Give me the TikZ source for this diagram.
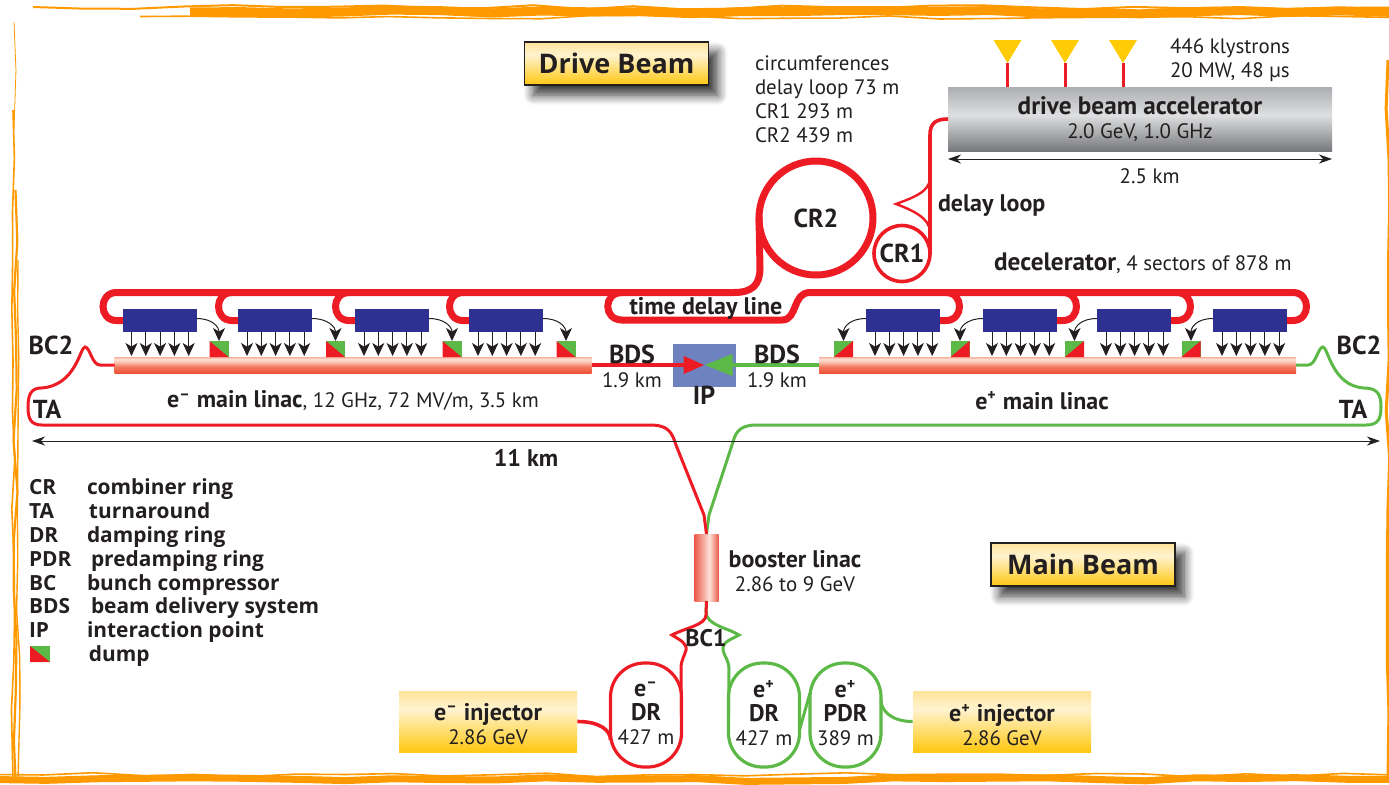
\documentclass[tikz,border=0pt]{standalone}
\usepackage{fontspec}
\setmainfont{PT Sans}
\newfontfamily\legfont{Open Sans}
\usetikzlibrary{calc,arrows.meta,decorations.pathmorphing,shadows.blur}
\definecolor{clicred}{HTML}{ED1C24}
\definecolor{clicgreen}{HTML}{5DB947}
\definecolor{clicblue}{HTML}{2E3192}
\definecolor{ipblue}{HTML}{6D82BF}
\definecolor{edgeorange}{HTML}{FF9900}
\definecolor{klyyellow}{HTML}{FFCB05}
\definecolor{inkc}{HTML}{231F20}
\definecolor{linaca}{HTML}{EE5236}
\definecolor{linacb}{HTML}{F27A5E}
\definecolor{linacc}{HTML}{FBBFAD}
\definecolor{linacd}{HTML}{FDE0D6}
\definecolor{linace}{HTML}{F9B09C}
\definecolor{accela}{HTML}{77787B}
\definecolor{accelb}{HTML}{DEDFE0}
\definecolor{accelc}{HTML}{ACAEB1}
\definecolor{golda}{HTML}{FFC70F}
\definecolor{goldb}{HTML}{FFF3CF}
\definecolor{goldc}{HTML}{FFE39A}
\definecolor{boostera}{HTML}{EC5A4A}
\definecolor{boosterb}{HTML}{FBE3DA}
\pgfdeclareverticalshading{linacshade}{100bp}{color(0bp)=(linaca); color(25bp)=(linaca); color(45bp)=(linacb); color(58bp)=(linacc); color(68bp)=(linacd); color(75bp)=(linace); color(100bp)=(linace)}
\pgfdeclareverticalshading{accelshade}{100bp}{color(0bp)=(accela); color(25bp)=(accela); color(53bp)=(accelb); color(75bp)=(accelc); color(100bp)=(accelc)}
\pgfdeclareverticalshading{goldshade}{100bp}{color(0bp)=(golda); color(25bp)=(golda); color(60bp)=(goldb); color(75bp)=(goldc); color(100bp)=(goldc)}
\pgfdeclarehorizontalshading{boostershade}{100bp}{color(0bp)=(boostera); color(25bp)=(boostera); color(56bp)=(boosterb); color(75bp)=(boostera); color(100bp)=(boostera)}
\newcommand{\hl}[1]{{\fontsize{12}{12}\selectfont\bfseries #1}}
\newcommand{\hm}[1]{{\fontsize{12.6}{12}\selectfont\bfseries #1}}
\tikzset{
  txt/.style={font=\fontsize{10.45}{12}\selectfont, text=inkc, inner sep=0pt, outer sep=0pt},
  btxt/.style={txt, font=\fontsize{12}{12}\selectfont\bfseries},
  ctxt/.style={txt, font=\fontsize{13}{12}\selectfont\bfseries},
  legtxt/.style={inner sep=0pt, outer sep=0pt, anchor=base west, text=inkc, font=\legfont\fontsize{10.45}{12}\selectfont\bfseries},
  titlebox/.style={draw=inkc, line width=.6pt, shading=goldshade, font=\legfont\fontsize{13.5}{16}\selectfont\bfseries, text=inkc, minimum width=92pt, minimum height=21.5pt, inner sep=0pt, blur shadow={shadow xshift=4.5pt, shadow yshift=-5pt, shadow blur radius=1ex, shadow blur steps=8, shadow opacity=80}},
  injector/.style={shading=goldshade, minimum width=89pt, minimum height=30.5pt},
  accel/.style={shading=accelshade, txt, align=center, minimum width=192pt, minimum height=32pt},
  linac/.style={shading=linacshade, minimum width=238.5pt, minimum height=8pt, inner sep=0pt, outer sep=0pt},
  pets/.style={fill=clicblue, minimum width=37pt, minimum height=11.5pt, inner sep=0pt, outer sep=0pt, anchor=north west},
  dumpbox/.style={minimum width=9.5pt, minimum height=8pt, inner sep=0pt, outer sep=0pt},
  ring/.style={draw, line width=1.6pt, rounded corners=17pt, minimum width=35.5pt, minimum height=52pt, outer sep=0pt},
  combiner/.style={draw=clicred, circle, inner sep=0pt, outer sep=0pt, ctxt},
  drive/.style={draw=clicred, line width=3.5pt, line cap=round},
  mainred/.style={draw=clicred, line width=1.5pt},
  maingreen/.style={draw=clicgreen, line width=1.5pt},
  rfarrow/.style={draw=inkc, line width=.5pt, -{Stealth[length=6.5pt,width=6pt,inset=1.8pt]}},
  dimline/.style={draw=inkc, line width=.5pt, {Stealth[length=6.5pt,width=4.5pt,inset=2pt]}-{Stealth[length=6.5pt,width=4.5pt,inset=2pt]}},
  rough/.style={draw=edgeorange, decorate, decoration={random steps, segment length=25pt, amplitude=1pt}}
}
\begin{document}
\begin{tikzpicture}[x=.5pt,y=-.5pt]
\useasboundingbox (0,0) rectangle (1389,784);
\pgfmathsetseed{7}
\draw[rough, line width=4.5pt] (190,12) -- (1394,12.5);
\draw[rough, line width=1pt] (33,7) -- (1394,7.5);
\draw[rough, line width=.8pt] (140,16.5) -- (1394,17.5);
\draw[rough, line width=3.5pt] (-5,779.5) -- (1394,779.5);
\draw[rough, line width=.8pt] (-5,774.5) -- (1394,775);
\draw[rough, line width=.4pt] (14,22) -- (14,130);
\draw[rough, line width=.8pt] (13,110) -- (13,780);
\draw[rough, line width=1.1pt] (15.5,190) -- (15.5,780);
\draw[rough, line width=.7pt] (18,260) -- (18,780);
\draw[rough, line width=1.5pt] (1388,60) -- (1388,780);

\node[titlebox] (drivetitle) at (616.5,63.5) {Drive Beam};
\node[titlebox] (maintitle) at (1083,564.5) {Main Beam};
\node[txt, anchor=north west, align=left] (circum) at (755,56) {circumferences\\delay loop 73 m\\CR1 293 m\\CR2 439 m};
\node[txt, anchor=north west, align=left] (klytext) at (1170,39) {446 klystrons\\20 MW, 48 µs};
\node[accel] (dba) at (1140,119) {\hm{drive beam accelerator}\\2.0 GeV, 1.0 GHz};

\foreach \nm/\x in {a/1007.5,b/1065,c/1123}{
  \coordinate (kly\nm) at (\x,63);
  \fill[klyyellow] (kly\nm) -- ++(-14,-23) -- ++(28,0) -- cycle;
  \draw[clicred, line width=1.5pt] (kly\nm) -- (kly\nm |- dba.north);
}
\draw[dimline] ([yshift=-4pt]dba.south west) -- node[txt, pos=.525, yshift=-8.5pt] (acclen) {2.5 km} ([yshift=-4pt]dba.south east);

\node[combiner, line width=3.5pt, minimum size=57pt] (crtwo) at (816,218) {CR2};
\node[combiner, line width=1.8pt, minimum size=28pt] (crone) at (902,253.5) {CR1};
\draw[clicred, line width=1.8pt] (dba.west) .. controls (936,119) and (930,123) .. (930,135) -- (crone.east);
\draw[clicred, line width=1.2pt] (930,178) .. controls (930,192) and (912,198) .. (896,204) .. controls (912,210) and (930,218) .. (930,232);
\node[btxt, anchor=west] (delayloop) at (938,206) {delay loop};
\node[txt, anchor=west] (decel) at (994,263) {\hm{decelerator}, 4 sectors of 878 m};

\foreach \nm/\x in {a/122.5,b/238,c/355,d/469,e/866,f/983,g/1097,h/1213}
  \node[pets] (pets\nm) at (\x,309) {};
\foreach \nm in {b,c,d}
  \draw[drive] (pets\nm.west) -- ++(-6,0) .. controls +(-18,0) and +(-18,0) .. ++(0,-28);
\foreach \nm in {e,f,g}
  \draw[drive] (pets\nm.east) -- ++(6,0) .. controls +(18,0) and +(18,0) .. ++(0,-28);
\coordinate (tdlend) at (622,292.5);
\draw[drive] (petsa.west) -- ++(-6,0) .. controls +(-18,0) and +(-18,0) .. ++(0,-28) -- (734,292.5) .. controls (752,292.5) and (760,285) .. (760,268) -- (crtwo.west);
\draw[drive] (tdlend) .. controls (603,292.5) and (603,320) .. (622,320) -- (782,320) .. controls (798,320) and (792,292.5) .. (810,292.5) -- ($(petsh.east)+(6,-28)$) .. controls +(18,0) and +(18,0) .. ++(0,28) -- (petsh.east);
\foreach \nm/\x in {a/122.5,b/238,c/355,d/469,e/866,f/983,g/1097,h/1213}
  \node[pets] at (\x,309) {};
\node[btxt] (tdl) at (706,308) {time delay line};

\node[linac] (linacel) at (353,365) {};
\node[linac] (linacpo) at (1057.5,365) {};
\foreach \nm/\x in {a/219,b/335.5,c/452,d/566}{
  \node[dumpbox] (dump\nm) at (\x,349) {};
  \fill[clicgreen] (dump\nm.north west) rectangle (dump\nm.south east);
  \fill[clicred] (dump\nm.north west) -- (dump\nm.south east) -- (dump\nm.south west) -- cycle;
  \draw[rfarrow] ([yshift=1pt]pets\nm.east) .. controls +(16,0) and +(0,-14) .. (dump\nm.north);
}
\foreach \nm/\x in {e/843.5,f/960,g/1074.5,h/1191}{
  \node[dumpbox] (dump\nm) at (\x,349) {};
  \fill[clicgreen] (dump\nm.north west) rectangle (dump\nm.south east);
  \fill[clicred] (dump\nm.north east) -- (dump\nm.south east) -- (dump\nm.south west) -- cycle;
  \draw[rfarrow] ([yshift=1pt]pets\nm.west) .. controls +(-16,0) and +(0,-14) .. (dump\nm.north);
}
\foreach \nm in {a,...,h}
  \foreach \dx in {4.5,11.65,18.8,25.95,33.1}
    \draw[rfarrow] ([xshift=\dx pt]pets\nm.south west) -- ++(0,24);

\node[fill=ipblue, minimum width=31.5pt, minimum height=21.5pt, inner sep=0pt, outer sep=0pt] (ip) at (704.5,365) {};
\draw[draw=clicgreen, line width=2pt, -{Triangle[length=14pt,width=10.5pt]}] (linacpo.west) -- (ip.center);
\draw[draw=clicred, line width=2pt, -{Triangle[length=10.5pt,width=8.5pt]}] (linacel.east) -- (ip.center);
\node[ctxt] (bdsl) at (632,354) {BDS};
\node[txt] (kml) at (632,380) {1.9 km};
\node[ctxt] (bdsr) at (777,354) {BDS};
\node[txt] (kmr) at (777,380) {1.9 km};
\node[ctxt] (iplabel) at (704,395) {IP};
\node[txt] (linacellabel) at (353,401) {\hl{e\textsuperscript{–} main linac}, 12 GHz, 72 MV/m, 3.5 km};
\node[btxt] (linacpolabel) at (1042,401) {e\textsuperscript{+} main linac};
\node[ctxt] (bctwol) at (51,345) {BC2};
\node[ctxt] (bctwor) at (1359,345) {BC2};
\node[ctxt] (tal) at (47,409) {TA};
\node[ctxt] (tar) at (1353,409) {TA};

\node[shading=boostershade, minimum width=12pt, minimum height=33.5pt, inner sep=0pt, outer sep=0pt] (booster) at (706.5,567.5) {};
\node[txt, align=center] (boostlabel) at (795,571.5) {\hl{booster linac}\\2.86 to 9 GeV};
\draw[maingreen] (linacpo.east) -- (1308,365) .. controls (1316,365) and (1318,347) .. (1323,347) .. controls (1328,347) and (1332,386) .. (1364,388) .. controls (1378,388) and (1381,395) .. (1381,407) .. controls (1381,419) and (1378,425) .. (1366,425) -- (757,425) .. controls (742,425) and (736,430) .. (733,442) -- (709,515) -- (booster.north);
\draw[mainred] (linacel.west) -- (100,365) .. controls (92,365) and (90,347) .. (85,347) .. controls (80,347) and (76,386) .. (41,388) .. controls (31,388) and (28,395) .. (28,407) .. controls (28,419) and (31,425) .. (42,425) -- (650,425) .. controls (668,425) and (672,432) .. (676,445) -- (704,515) -- (booster.north);
\coordinate (arrowl) at (32,441);
\coordinate (arrowr) at (1380,441);
\draw[dimline] (arrowl) -- (arrowr);
\node[btxt] (elevenkm) at (526,458) {11 km};

\node[ring, draw=clicred] (dre) at (646,715) {};
\node[ring, draw=clicgreen] (drp) at (764,715) {};
\node[ring, draw=clicgreen] (pdr) at (845.5,715) {};
\node[txt, align=center] (drelabel) at (646,713) {\hl{e\textsuperscript{–}}\\\hl{DR}\\427 m};
\node[txt, align=center] (drplabel) at (764,713) {\hl{e\textsuperscript{+}}\\\hl{DR}\\427 m};
\node[txt, align=center] (pdrlabel) at (845.5,713) {\hl{e\textsuperscript{+}}\\\hl{PDR}\\389 m};
\node[injector] (inje) at (488,721.5) {};
\node[injector] (injp) at (1002,721.5) {};
\node[txt, align=center] (injelabel) at (488,724) {\hl{e\textsuperscript{–} injector}\\2.86 GeV};
\node[txt, align=center] (injplabel) at (1002,725) {\hl{e\textsuperscript{+} injector}\\2.86 GeV};
\draw[draw=clicred, line width=1.8pt] (inje.east) .. controls +(22,0) and +(0,-10) .. ([yshift=-12.5pt]dre.west);
\draw[maingreen] (injp.west) .. controls +(-22,0) and +(0,10) .. ([yshift=7.5pt]pdr.east);
\draw[maingreen] ([yshift=-7.5pt]drp.east) -- ([yshift=11pt]pdr.west);
\draw[maingreen] (booster.south) -- (706,612) .. controls (706,625) and (728,628) .. (739,635) .. controls (730,640) and (722,642) .. (723,650) .. controls (724,656) and (729,660) .. (729,670) -- (drp.west);
\draw[mainred] (booster.south) -- (706,615) .. controls (706,625) and (685,628) .. (672,635) .. controls (680,640) and (687,643) .. (686,650) .. controls (685,655) and (681,660) .. (681,668) -- (dre.east);
\node[btxt] (bcone) at (706,638) {BC1};

\foreach \nm/\y/\ab/\xx/\desc in {cr/494.5/CR/87/combiner ring,ta/518.5/TA/89/turnaround,dr/542/DR/87/damping ring,pdr/566/PDR/91/predamping ring,bc/590/BC/87/bunch compressor,bds/613.5/BDS/91/beam delivery system,ip/637.5/IP/87/interaction point}{
  \node[legtxt] (leg\nm) at (29,\y) {\ab};
  \node[legtxt] (leg\nm txt) at (\xx,\y) {\desc};
}
\node[dumpbox, minimum width=10pt] (legdump) at (40,654) {};
\fill[clicgreen] (legdump.north west) rectangle (legdump.south east);
\fill[clicred] (legdump.north west) -- (legdump.south east) -- (legdump.south west) -- cycle;
\node[legtxt] (legdumptxt) at (89,661.5) {dump};
\end{tikzpicture}
\end{document}
